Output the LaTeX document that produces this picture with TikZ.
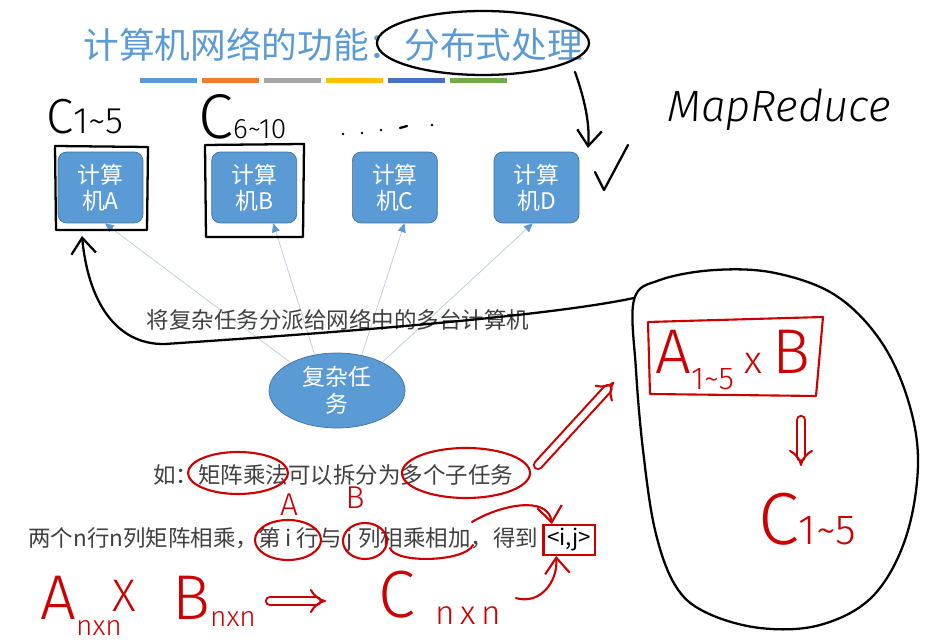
\documentclass[tikz,border=0pt]{standalone}
\usepackage{fontspec}
\usepackage{tikz}
\usetikzlibrary{arrows.meta,positioning,shapes.geometric}
\newfontfamily\cjk{Noto Sans CJK SC}
\newfontfamily\handfont{Fira Sans Light}
\definecolor{slideblue}{HTML}{5B9BD5}
\definecolor{slideedge}{HTML}{41719C}
\definecolor{titleblue}{HTML}{5B9BD5}
\definecolor{txtgray}{HTML}{404040}
\definecolor{linkgray}{HTML}{C0CAD8}
\definecolor{inkred}{HTML}{CC0000}
\definecolor{barblue}{HTML}{5B9BD5}
\definecolor{barorange}{HTML}{ED7D31}
\definecolor{bargray}{HTML}{A5A5A5}
\definecolor{baryellow}{HTML}{FFC000}
\definecolor{bardark}{HTML}{4472C4}
\definecolor{bargreen}{HTML}{70AD47}
\newcommand{\hsub}[2][-0.25em]{\raisebox{#1}{\fontsize{16}{16}\selectfont #2}}

\begin{document}
\begin{tikzpicture}[
  x=0.02cm, y=-0.02cm,
  pc/.style={draw=slideedge, fill=slideblue, rounded corners=5pt, align=center,
    minimum width=1.7cm, minimum height=1.42cm, text=white,
    font=\cjk\fontsize{13}{14.7}\selectfont},
  task/.style={ellipse, draw=slideedge, fill=slideblue, align=center,
    minimum width=2.72cm, minimum height=1.5cm, text=white, inner sep=0pt,
    font=\cjk\fontsize{13}{15.3}\selectfont},
  link/.style={draw=linkgray, -{Triangle[length=5pt,width=4.5pt,color=slideblue]}},
  txt/.style={text=txtgray, inner sep=0pt, font=\cjk\fontsize{12.8}{15}\selectfont},
  ink/.style={black, line width=1.3pt, line cap=round, line join=round},
  redink/.style={inkred, line width=1.2pt, line cap=round, line join=round},
  hand/.style={inner sep=0pt, font=\handfont\fontsize{#1}{#1}\selectfont},
  hand/.default=28,
  barb/.style={-{Straight Barb[length=9pt,width=14pt]}},
  imp/.style={double, double distance=3.5pt, -{Implies}}
]
\fill[white] (0,0) rectangle (937,641);
\useasboundingbox (0,0) rectangle (937,641);

% slide
\node[anchor=west, text=titleblue, inner sep=0pt,
  font=\cjk\fontsize{20.3}{24}\selectfont] (title) at (83,45) {计算机网络的功能：分布式处理};
\foreach \c [count=\i from 0] in {barblue,barorange,bargray,baryellow,bardark,bargreen}
  \fill[\c] ({140+62*\i},78) rectangle ++(57,5);

\node[pc] (pcA) at (100.5,187.5) {计算\\机A};
\node[pc, right=1.36cm of pcA] (pcB) {计算\\机B};
\node[pc, right=1.1cm of pcB] (pcC) {计算\\机C};
\node[pc, right=1.12cm of pcC] (pcD) {计算\\机D};
\node[task] (task) at (337,390.5) {复杂任\\务};
\foreach \n/\a/\b in {pcA/149/-83, pcB/122/-62, pcC/55/-75, pcD/32/-96}
  \draw[link] (task.\a) -- (\n.\b);

\node[txt] (assign) at (338,320) {将复杂任务分派给网络中的多台计算机};
\node[txt, anchor=west] (eg) at (153,475) {如：矩阵乘法可以拆分为多个子任务};
\node[txt, anchor=west] (rule) at (28,540) {两个n行n列矩阵相乘，第 i 行与 j 列相乘相加，得到};
\node[txt, right=0.08cm of rule, draw=inkred, line width=1.2pt, text=black,
  inner sep=2pt, minimum height=0.56cm] (ij) {<i,j>};

% black ink
\draw[ink] (483,43) ellipse [x radius=106, y radius=32];
\draw[ink, barb] (575,72) .. controls (585,100) and (590,125) .. (588,148);
\draw[ink] (595,172) -- (604,190) -- (628,145);
\node[hand=28, anchor=base west] (c15) at (46,134)
  {C\hsub[0pt]{\fontsize{21}{21}\selectfont 1\textasciitilde5}};
\node[hand=36, anchor=base west] (c610) at (198,139) {C\hsub[0pt]{6\textasciitilde10}};
\foreach \x/\y in {343/134, 362/133, 381/130, 432/125}
  \fill (\x,\y) circle[radius=1.3];
\draw[ink] (400,128) -- (407,126);
\node[hand=25, anchor=base west] (mr) at (667,122) {\itshape MapReduce};
\draw[ink] (55,146) -- (148,147) -- (147,230) -- (56,230) -- cycle;
\draw[ink] (205,145) -- (304,144) -- (303,237) -- (206,237) -- cycle;
\draw[ink] plot[smooth cycle, tension=0.6] coordinates {(634,300) (660,280) (715,270)
  (775,273) (835,295) (880,340) (908,400) (918,465) (905,540) (872,597) (820,625)
  (760,628) (705,612) (675,585) (655,530) (643,450) (636,370)};
\coordinate (hook) at (634,298);
\coordinate (boxAfoot) at (82,236);
\draw[ink, barb] (hook) .. controls (540,318) and (300,335) .. (165,344)
  .. controls (115,345) and (88,300) .. (boxAfoot);

% red ink
\draw[redink] (238,473) ellipse [x radius=50, y radius=21];
\draw[redink] (466,473) ellipse [x radius=64, y radius=25];
\draw[redink] (288,540) ellipse [x radius=33, y radius=20];
\draw[redink] (365,541) ellipse [x radius=22, y radius=18];
\draw[redink] (390,548) .. controls (395,564) and (465,562) .. (473,545);
\node[hand=18, text=inkred] (rowA) at (289,505) {A};
\node[hand=18, text=inkred] (colB) at (355,498) {B};
\coordinate (sumend) at (472,522);
\draw[redink, barb] (sumend) .. controls (500,505) and (548,495) .. (ij.137);

\node[hand=36, text=inkred, anchor=base west] (amat) at (40,620) {A\hsub{nxn}};
\node[hand=26, text=inkred, anchor=base west] (times) at (112,612) {X};
\node[hand=36, text=inkred, anchor=base west] (bmat) at (172,620) {B\hsub[-0.1em]{nxn}};
\coordinate (impS) at (270,601);
\coordinate (impE) at (326,601);
\draw[redink, imp] (impS) -- (impE);
\node[hand=38, text=inkred, anchor=base west] (cmat) at (378,618)
  {C\hspace{0.3em}\hsub[-0.1em]{\fontsize{19}{19}\selectfont n\,x\,n}};
\draw[redink, barb] ([xshift=0.3cm]cmat.east) .. controls (540,605) and (558,582) .. (ij.-129);

\coordinate (upS) at (538,465);
\coordinate (upE) at (614,382);
\draw[redink, imp] (upS) -- (upE);
\node[hand=36, text=inkred] (aprod) at (733,360)
  {A\hsub{\fontsize{18}{18}\selectfont 1\textasciitilde5}\,{\fontsize{22}{22}\selectfont x}\,B};
\draw[redink] (648,322) -- (823,317) -- (816,396) -- (650,394) -- cycle;
\coordinate (downS) at (801,420);
\coordinate (downE) at (801,466);
\draw[redink, imp] (downS) -- (downE);
\node[hand=42, text=inkred, anchor=base west] (cres) at (758,545)
  {C\hsub[0pt]{\fontsize{24}{24}\selectfont 1\textasciitilde5}};
\end{tikzpicture}
\end{document}
